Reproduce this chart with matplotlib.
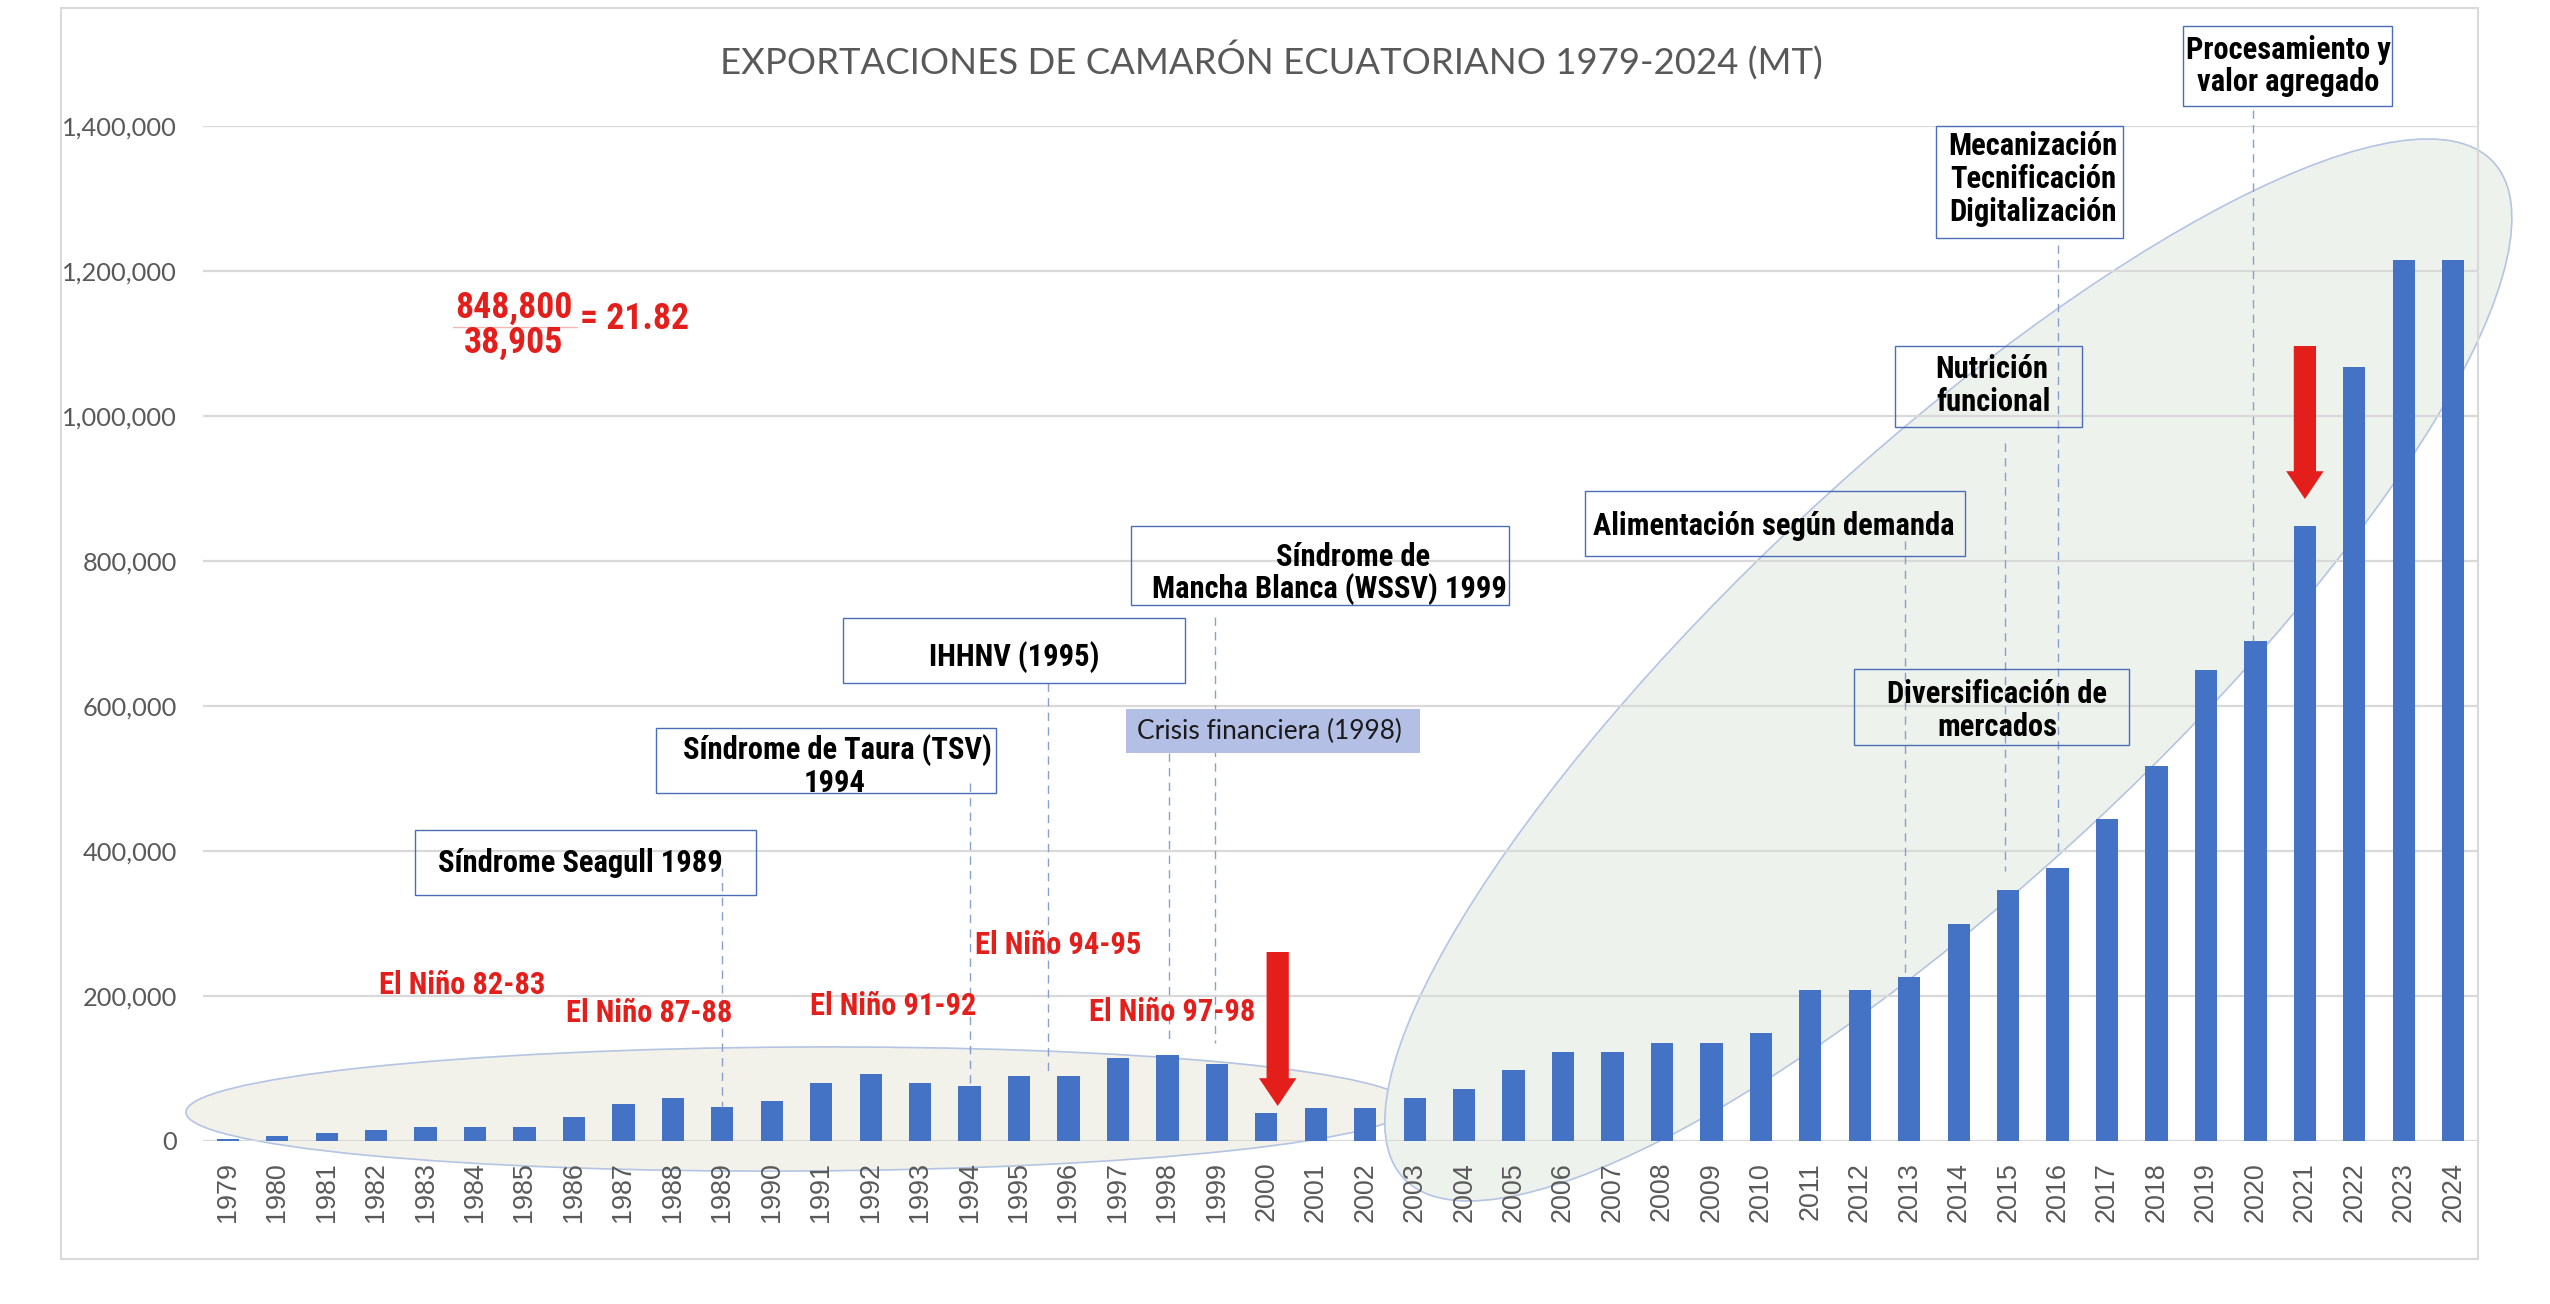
import os
import matplotlib
matplotlib.use("Agg")
import matplotlib.pyplot as plt
from matplotlib import font_manager as fm
from matplotlib.patches import Ellipse, Rectangle
from matplotlib.textpath import TextPath
from matplotlib.transforms import IdentityTransform
from matplotlib.ticker import StrMethodFormatter

# ---- data (MT) ----
years = list(range(1979, 2025))
exports = [3000, 7000, 11500, 15600, 19500, 19500, 19500, 33000, 50400, 59000,
           46400, 55000, 80000, 92800, 80000, 76000, 89000, 89000, 114800, 118800,
           106000, 38905, 45800, 45800, 59000, 71900, 97400, 122900, 122900, 135700,
           135700, 149000, 208700, 208700, 226000, 299000, 346000, 376000, 444600, 517000,
           650000, 689500, 848800, 1067000, 1215500, 1215500]

title = "EXPORTACIONES DE CAMARÓN ECUATORIANO 1979-2024 (MT)"

# event boxes: (x0, x1, y0, y1), text lines with (x, y)
boxes = [
    ((1982.78, 1989.69, 339e3, 429e3), [("Síndrome Seagull 1989", 1986.13, 384e3)]),
    ((1987.65, 1994.54, 480e3, 569.6e3), [("Síndrome de Taura (TSV)", 1991.32, 539e3),
                                          ("1994", 1991.26, 494e3)]),
    ((1991.44, 1998.35, 631.7e3, 721.4e3), [("IHHNV (1995)", 1994.9, 667e3)]),
    ((1997.26, 2004.9, 739.3e3, 848.3e3), [("Síndrome de", 2001.75, 805e3),
                                           ("Mancha Blanca (WSSV) 1999", 2001.28, 761e3)]),
    ((2006.45, 2014.13, 806.9e3, 896.5e3), [("Alimentación según demanda", 2010.27, 848e3)]),
    ((2012.72, 2016.5, 984.8e3, 1096.5e3), [("Nutrición", 2014.66, 1065e3),
                                            ("funcional", 2014.7, 1019e3)]),
    ((2013.55, 2017.32, 1245.5e3, 1400e3), [("Mecanización", 2015.5, 1373e3),
                                            ("Tecnificación", 2015.5, 1327e3),
                                            ("Digitalización", 2015.5, 1281e3)]),
    ((2018.53, 2022.76, 1427.6e3, 1538e3), [("Procesamiento y", 2020.66, 1505e3),
                                            ("valor agregado", 2020.66, 1461e3)]),
    ((2011.89, 2017.44, 546.2e3, 651e3), [("Diversificación de", 2014.78, 616e3),
                                          ("mercados", 2014.78, 571e3)]),
]

# dashed leader lines: x, y from, y to
leaders = [(1989, 376e3, 46.4e3), (1994, 494e3, 76e3), (1995.59, 631.7e3, 89.6e3),
           (1998.03, 535e3, 135e3), (1998.96, 722.7e3, 135e3), (2012.92, 828e3, 226e3),
           (2014.94, 963e3, 372e3), (2016.01, 1236e3, 393e3), (2019.95, 1422e3, 689.5e3)]

nino_labels = ["El Niño 82-83", "El Niño 87-88", "El Niño 91-92", "El Niño 94-95", "El Niño 97-98"]
nino_x = [1983.75, 1987.53, 1992.45, 1995.79, 1998.09]
nino_y = [215e3, 176.5e3, 186e3, 270e3, 178e3]

# red arrows: x, y top, y tip
arrows = [(2000.23, 260.7e3, 48.3e3), (2021.0, 1096.5e3, 885.5e3)]

BLUE = "#4472c4"
RED = "#e31e1b"
GRAY = "#595959"


def font_file(*names, fallback=None):
    files = {os.path.basename(f.fname): f.fname for f in fm.fontManager.ttflist}
    for n in names:
        if n in files:
            return fm.FontProperties(fname=files[n])
    return fallback


def fit(s, fp, px):
    w = TextPath((0, 0), s, size=100, prop=fp).get_extents().width
    return 100 * px * 0.72 / w


def sized(fp, size):
    p = fp.copy()
    p.set_size(size)
    return p


bold_fp = font_file('LiberationSansNarrow-Bold.ttf', 'RobotoCondensed-Bold.ttf',
                    'NotoSans-CondensedBold.ttf', 'NotoSans-SemiCondensedBold.ttf',
                    'DejaVuSansCondensed-Bold.ttf', 'LiberationSans-Bold.ttf',
                    fallback=fm.FontProperties(family='DejaVu Sans', weight='bold'))
reg_fp = font_file('Lato-Regular.ttf', 'OpenSans-Regular.ttf', 'NotoSans-Regular.ttf',
                   fallback=fm.FontProperties(family='DejaVu Sans'))
tick_fp = font_file('LiberationSans-Regular.ttf',
                    fallback=fm.FontProperties(family='DejaVu Sans'))

box_size = fit("Síndrome Seagull 1989", bold_fp, 282)
frac_size = fit("848,800", bold_fp, 114)
title_size = fit(title, reg_fp, 1098)
crisis_size = fit("Crisis financiera (1998)", reg_fp, 262)
ytick_size = fit("1,400,000", reg_fp, 112)
xtick_size = fit("2024", tick_fp, 58)

fig = plt.figure(figsize=(25.5, 13.04), dpi=100)
ax = fig.add_axes([203 / 2550, 1 - 1141 / 1304, 2275 / 2550, 1015 / 1304])

# outer chart frame
fig.patches.append(Rectangle((61 / 2550, 1 - 1259 / 1304), 2417 / 2550, 1251.5 / 1304,
                             transform=fig.transFigure, fill=False,
                             edgecolor="#d9d9d9", lw=1.5))

ax.bar(years, exports, width=0.45, color=BLUE, zorder=2)
ax.set_xlim(1978.5, 2024.5)
ax.set_ylim(0, 1400000)
ax.set_yticks(range(0, 1400001, 200000))
ax.yaxis.set_major_formatter(StrMethodFormatter('{x:,.0f}'))
ax.set_xticks(years)
ax.set_xticklabels([str(y) for y in years], rotation=90, fontproperties=sized(tick_fp, xtick_size))
for lab in ax.get_yticklabels():
    lab.set_fontproperties(sized(reg_fp, ytick_size))
ax.tick_params(axis='both', length=0, labelcolor=GRAY)
ax.tick_params(axis='x', pad=15)
ax.tick_params(axis='y', pad=18.5)
ax.yaxis.grid(True, color="#d9d9d9", lw=1.6)
ax.set_axisbelow(True)
for s in ax.spines.values():
    s.set_visible(False)


# ellipses, sized in pixels around a data point
def ellipse(xc, yc, w, h, ang, fc):
    cx, cy = ax.transData.transform((xc, yc))
    e = Ellipse((cx, cy), w, h, angle=ang, transform=IdentityTransform(),
                facecolor=fc, edgecolor="#b4c4e2", lw=1.2, zorder=0.2, clip_on=False)
    ax.add_patch(e)


ellipse(1990.53, 44.1e3, 1224, 124, 0.3, "#f3f2ea")
ellipse(2013.79, 649.7e3, 1490, 422, 43, "#edf2ed")

# dashed leaders
for x, y0, y1 in leaders:
    ax.plot([x, x], [y0, y1], color="#8a9fcb", lw=1.0, ls=(0, (6, 4.5)), zorder=3, clip_on=False)

# boxes
for (x0, x1, y0, y1), lines in boxes:
    ax.add_patch(Rectangle((x0, y0), x1 - x0, y1 - y0, fill=False, edgecolor="#4b6cb7",
                           lw=1.0, zorder=4, clip_on=False))
    for s, x, y in lines:
        ax.text(x, y, s, ha='center', va='center', fontproperties=sized(bold_fp, box_size),
                color='black', zorder=5, clip_on=False)

# crisis label
ax.add_patch(Rectangle((1997.16, 535.2e3), 5.94, 60.7e3, facecolor="#b4bfe5",
                       edgecolor='none', zorder=3.5))
ax.text(1997.38, 565.5e3, "Crisis financiera (1998)", ha='left', va='center',
        fontproperties=sized(reg_fp, crisis_size), color="#1a1a1a", zorder=5)

# El Niño labels
for s, x, y in zip(nino_labels, nino_x, nino_y):
    ax.text(x, y, s, ha='center', va='center', fontproperties=sized(bold_fp, box_size),
            color=RED, zorder=5)

# ratio 2021 / 2000
ratio = exports[years.index(2021)] / exports[years.index(2000)]
ax.text(1984.78, 1149e3, f"{exports[years.index(2021)]:,}", ha='center', va='center',
        fontproperties=sized(bold_fp, frac_size), color=RED)
ax.text(1984.78, 1100.7e3, f"{exports[years.index(2000)]:,}", ha='center', va='center',
        fontproperties=sized(bold_fp, frac_size), color=RED)
ax.plot([1983.55, 1986.07], [1122.7e3, 1122.7e3], color="#f2b8b8", lw=1.0)
ax.text(1986.13, 1133.8e3, f"= {ratio:.2f}", ha='left', va='center',
        fontproperties=sized(bold_fp, frac_size), color=RED)

# red arrows
for x, ytop, ytip in arrows:
    ax.annotate("", xy=(x, ytip), xytext=(x, ytop),
                arrowprops=dict(arrowstyle="simple,head_length=20,head_width=27,tail_width=16",
                                mutation_scale=1, color=RED, shrinkA=0, shrinkB=0, lw=0),
                zorder=6)

fig.text(1271 / 2550, 1 - 60 / 1304, title, ha='center', va='center',
         fontproperties=sized(reg_fp, title_size), color=GRAY)

fig.savefig("out.png", dpi=100, facecolor='white')
